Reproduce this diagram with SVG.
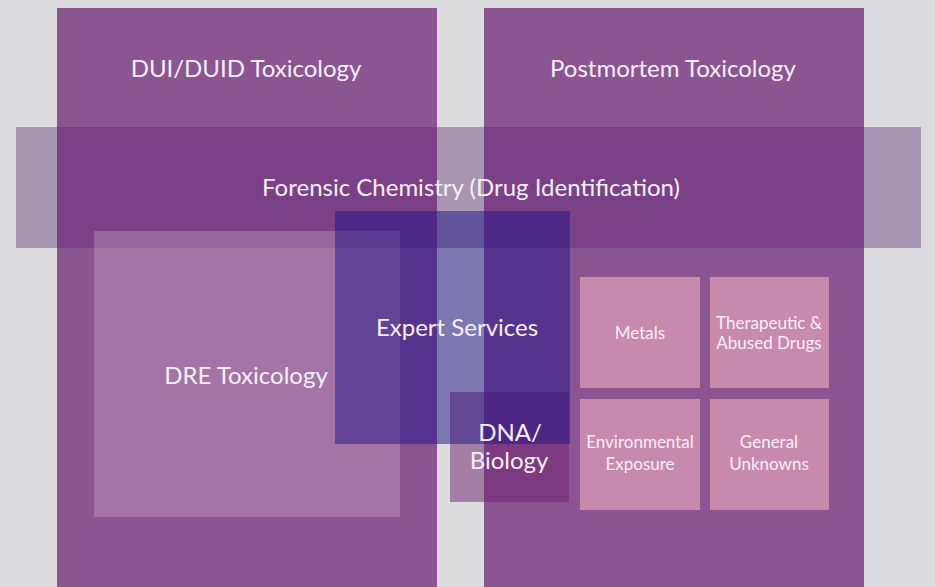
<svg xmlns="http://www.w3.org/2000/svg" width="935" height="587" viewBox="0 0 935 587">
<style>
.t{font-family:Lato,"Open Sans","DejaVu Sans",sans-serif;fill:#f7eff7;text-anchor:middle}
.big{font-size:24px}
.sm{font-size:17px}
.box{fill:#8b5592}
.small{fill:#c78aad}
.bg{fill:#a796b1}
.bd{fill:#7a4187}
</style>
<rect x="0" y="0" width="935" height="587" fill="#dcdcde"/>
<g id="dui">
<rect class="box" x="57" y="8" width="380" height="579"/>
<text class="t big" x="246" y="77">DUI/DUID Toxicology</text>
</g>
<g id="postmortem">
<rect class="box" x="484" y="8" width="380" height="579"/>
<text class="t big" x="673" y="77">Postmortem Toxicology</text>
</g>
<g id="forensic">
<rect class="bg" x="16" y="127" width="41" height="121"/>
<rect class="bd" x="57" y="127" width="380" height="121"/>
<rect class="bg" x="437" y="127" width="47" height="121"/>
<rect class="bd" x="484" y="127" width="380" height="121"/>
<rect class="bg" x="864" y="127" width="57" height="121"/>
</g>
<g id="dre">
<rect x="94" y="231" width="306" height="286" fill="rgb(212,174,207)" fill-opacity="0.35"/>
<text class="t big" x="246" y="384">DRE Toxicology</text>
</g>
<g id="dna">
<rect x="450" y="392" width="119" height="110" fill="rgb(110,32,110)" fill-opacity="0.5"/>
</g>
<g id="expert">
<rect x="335" y="211" width="235" height="233" fill="rgb(30,20,134)" fill-opacity="0.5"/>
<text class="t big" x="457" y="336">Expert Services</text>
</g>
<text class="t big" x="471" y="196">Forensic Chemistry (Drug Identification)</text>
<g id="dna-label">
<text class="t big" x="510" y="441">DNA/</text>
<text class="t big" x="509" y="469">Biology</text>
</g>
<g id="metals">
<rect class="small" x="580" y="277" width="120" height="111"/>
<text class="t sm" x="640" y="339">Metals</text>
</g>
<g id="therapeutic">
<rect class="small" x="710" y="277" width="119" height="111"/>
<text class="t sm" x="769" y="329">Therapeutic &amp;</text>
<text class="t sm" x="769" y="349">Abused Drugs</text>
</g>
<g id="environmental">
<rect class="small" x="580" y="399" width="120" height="111"/>
<text class="t sm" x="640" y="448">Environmental</text>
<text class="t sm" x="640" y="470">Exposure</text>
</g>
<g id="general">
<rect class="small" x="710" y="399" width="119" height="111"/>
<text class="t sm" x="769" y="448">General</text>
<text class="t sm" x="769" y="470">Unknowns</text>
</g>
<g id="connectors"></g>
</svg>
